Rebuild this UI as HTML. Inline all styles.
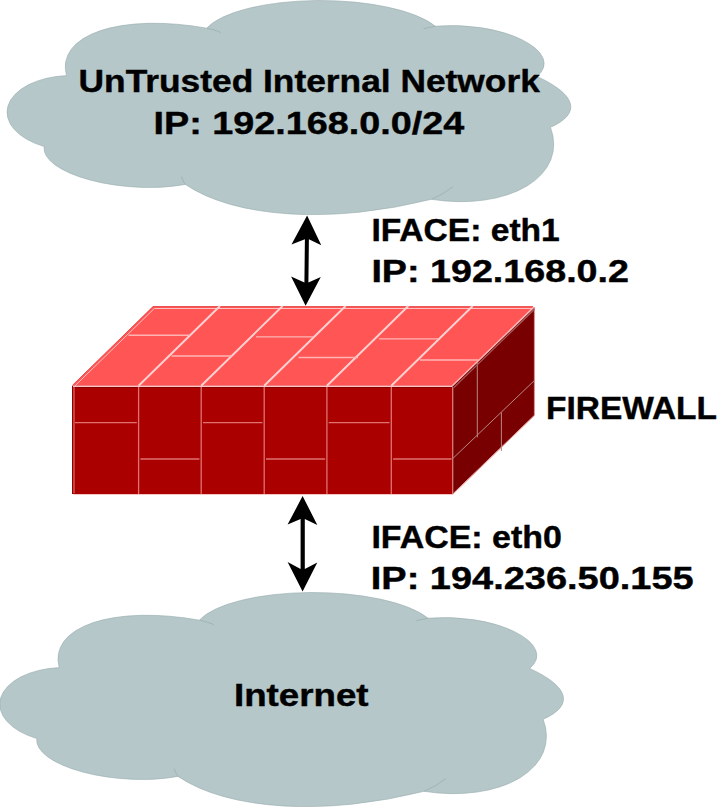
<!DOCTYPE html>
<html><head><meta charset="utf-8">
<style>
html,body{margin:0;padding:0;background:#ffffff;width:720px;height:807px;overflow:hidden}
svg{display:block}
text{font-family:"Liberation Sans",sans-serif;font-weight:bold;fill:#000}
</style></head>
<body>
<svg width="720" height="807" viewBox="0 0 720 807">
<!--CLOUD-->
<defs><path id="cloud" d="M66.51 75.61A149.89 64.62 13.53 0 1 206.67 28.15A121.38 39.91 0.50 0 1 435.33 26.16A80.01 32.25 4.59 0 1 537.01 76.46A250.00 55.27 4.58 0 1 550.49 127.27A120.00 70.47 11.71 0 1 431.29 199.33A250.00 119.77 -13.42 0 1 185.26 184.38A90.81 33.19 3.98 0 1 44.14 146.50A65.67 37.54 1.09 0 1 66.51 75.61Z"/>
<path id="tails" d="M206.7 28.2Q214 29.4 221 32.5M435.5 26.3Q429 27.2 423.5 28.8M431.5 199.3Q443 194.5 453 186.7M185.3 184.4Q182.6 180.8 181.5 176.5"/></defs>
<!--/CLOUD-->
<g fill="#b5c7c9" stroke="#97abad" stroke-width="0.6">
  <use href="#cloud"/>
  <use href="#cloud" transform="translate(-7.3,592)"/>
</g>
<g fill="none" stroke="#9aaeb0" stroke-width="0.8">
  <use href="#tails"/>
  <use href="#tails" transform="translate(-7.3,592)"/>
</g>

<!-- firewall -->
<polygon points="72.2,385.8 452.4,385.8 534.4,307 153.1,306.3" fill="#ff5555"/>
<rect x="72.2" y="385.8" width="380.2" height="108.2" fill="#aa0000"/>
<polygon points="452.4,385.8 534.4,307 534.4,415 452.4,494" fill="#790000"/>
<g fill="none">
  <path d="M72.6 386V494M452.4 387.5H72.6" stroke="#820000" stroke-width="1"/>
  <path d="M74 387V493.3" stroke="#e06262" stroke-width="1.3"/>
  <path d="M73.5 494.5H452.4" stroke="#f4c0c0" stroke-width="0.9"/>
  <path d="M72.6 385.2L153.1 306.6H533" stroke="#e84c4c" stroke-width="1"/>
  <path d="M75 385.8L154.3 308.5H532.5" stroke="#ffc0c0" stroke-width="1"/>
  <path d="M73 386.3H452.4" stroke="#ffc4c4" stroke-width="1.3"/>
</g>
<g stroke="#e07272" stroke-width="1.3" fill="none">
  <path d="M138.6 387V494M201.2 387V494M264.2 387V494M326.9 387V494M391.3 387V494"/>
  <path d="M75 422.6H136.8M203 422.6H262.4M328.7 422.6H389.5M140.4 459H199.4M266 459H325.1M393.1 459H451.5"/>
</g>
<g stroke="#e89090" stroke-width="1" fill="none">
  <path d="M452.8 387V494.3L534.4 415.5V307.5"/>
</g>
<g stroke="#b98787" stroke-width="1" fill="none">
  <path d="M452.6 458.7L534.4 380.5M477.3 362.5V437.4M501.4 412.3V451"/>
</g>
<path d="M453.8 387.6L534.5 309.2" stroke="#a86262" stroke-width="1.2" fill="none"/>
<path d="M452.4 385.8L533.6 307.4" stroke="#ffb8b8" stroke-width="1.5" fill="none"/>
<g stroke="#ffd2d2" stroke-width="1.9" fill="none">
  <path d="M138.6 385.8L220 306M201.2 385.8L282.6 306M264.2 385.8L345.6 306M326.9 385.8L408.3 306M391.3 385.8L472.7 306"/>
</g>
<g stroke="#ffb4b4" stroke-width="1.4" fill="none">
  <path d="M128.5 335.2H189.6M171.5 356H231.5M256 336.9H313.5M298.5 357.5H358M379 338.9H439M420 360H478.5"/>
</g>

<!-- arrows -->
<g fill="#000">
  <path d="M307.1 215.6L321.3 245.3L308.9 239.3L308.4 282.5L320.8 277L305.6 305.8L291.1 276.5L304.4 282.5L304.9 239.3L291.5 244.6Z"/>
  <path d="M302.6 496L317.3 524.9L304.8 519L304.8 568.9L317.3 562.5L302.6 591.4L287.6 562L300.6 568.9L300.6 519L287.6 524.6Z"/>
</g>

<!-- text -->
<g font-size="31" stroke="#000" stroke-width="0.4">
  <text x="78.6" y="92.4" textLength="461.2" lengthAdjust="spacingAndGlyphs">UnTrusted Internal Network</text>
  <text x="153.6" y="133.6" textLength="310.6" lengthAdjust="spacingAndGlyphs">IP: 192.168.0.0/24</text>
  <text x="371.4" y="240.8" textLength="188.4" lengthAdjust="spacingAndGlyphs">IFACE: eth1</text>
  <text x="371.4" y="281.6" textLength="257.6" lengthAdjust="spacingAndGlyphs">IP: 192.168.0.2</text>
  <text x="546.0" y="418.8" textLength="171.0" lengthAdjust="spacingAndGlyphs">FIREWALL</text>
  <text x="371.4" y="548" textLength="190.4" lengthAdjust="spacingAndGlyphs">IFACE: eth0</text>
  <text x="370.8" y="589.4" textLength="322.8" lengthAdjust="spacingAndGlyphs">IP: 194.236.50.155</text>
  <text x="234.0" y="705.6" textLength="134.6" lengthAdjust="spacingAndGlyphs">Internet</text>
</g>
</svg>
</body></html>
